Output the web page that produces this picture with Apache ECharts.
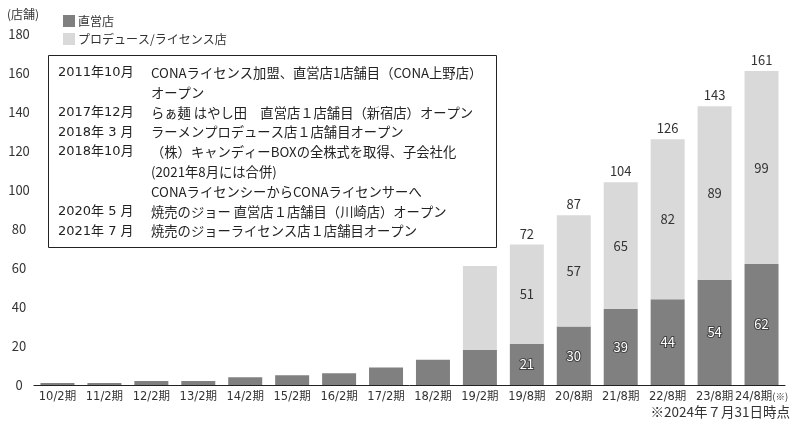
<!DOCTYPE html>
<html>
<head>
<meta charset="utf-8">
<script src="https://cdn.jsdelivr.net/npm/echarts@6/dist/echarts.min.js"></script>
<style>
  html, body { margin: 0; padding: 0; background: #fff; }
  #chart { width: 797px; height: 428px; }
</style>
</head>
<body>
<div id="chart"></div>
<script>
// 決算期
var periods = ["10/2期", "11/2期", "12/2期", "13/2期", "14/2期", "15/2期", "16/2期", "17/2期",
  "18/2期", "19/2期", "19/8期", "20/8期", "21/8期", "22/8期", "23/8期", "24/8期(※)"];
// 直営店
var directStores = [1, 1, 2, 2, 4, 5, 6, 9, 13, 18, 21, 30, 39, 44, 54, 62];
// プロデュース/ライセンス店
var licenseStores = [0, 0, 0, 0, 0, 0, 0, 0, 0, 43, 51, 57, 65, 82, 89, 99];
// 合計店舗数
var totalStores = [1, 1, 2, 2, 4, 5, 6, 9, 13, 61, 72, 87, 104, 126, 143, 161];
var yTicks = [0, 20, 40, 60, 80, 100, 120, 140, 160, 180];
var firstLabeled = 10; // 19/8期 から数値表示

var historyDates = ["2011年10月", "", "2017年12月", "2018年 3 月", "2018年10月", "", "", "2020年 5 月", "2021年 7 月"];
var historyTexts = [
  "CONAライセンス加盟、直営店1店舗目（CONA上野店）",
  "オープン",
  "らぁ麺 はやし田　直営店１店舗目（新宿店）オープン",
  "ラーメンプロデュース店１店舗目オープン",
  "（株）キャンディーBOXの全株式を取得、子会社化",
  "(2021年8月には合併)",
  "CONAライセンシーからCONAライセンサーへ",
  "焼売のジョー 直営店１店舗目（川崎店）オープン",
  "焼売のジョーライセンス店１店舗目オープン"
];

var font = "'Noto Sans CJK JP', 'Noto Sans', sans-serif";
var wideFont = "'DejaVu Sans', 'Noto Sans CJK JP', sans-serif";

function withLabels(values, labelStyle) {
  return values.map(function (v, i) {
    if (i < firstLabeled) {
      return { value: v, label: { show: false } };
    }
    return { value: v, label: labelStyle };
  });
}

var chart = echarts.init(document.getElementById("chart"));
var option = {
  backgroundColor: "#fff",
  animation: false,
  textStyle: { fontFamily: font },
  legend: {
    data: ["直営店", "プロデュース/ライセンス店"],
    orient: "vertical",
    left: 58,
    top: 10,
    itemWidth: 12,
    itemHeight: 12,
    itemGap: 6,
    icon: "rect",
    textStyle: { fontSize: 12, color: "#333", fontFamily: font, padding: [0, 0, 0, -2] }
  },
  grid: {
    left: 34,
    right: 12,
    top: 34,
    bottom: 43
  },
  xAxis: {
    type: "category",
    data: periods,
    axisLine: { lineStyle: { color: "#222", width: 1 } },
    axisTick: { show: false },
    axisLabel: {
      interval: 0,
      margin: 6,
      fontSize: 11.5,
      color: "#333",
      fontFamily: wideFont,
      formatter: function (v) {
        if (v.indexOf("(※)") >= 0) {
          return v.replace("(※)", "") + "{s|(※)}";
        }
        return v;
      },
      rich: { s: { fontSize: 9.5, color: "#333", fontFamily: font } }
    }
  },
  yAxis: {
    type: "value",
    min: yTicks[0],
    max: yTicks[yTicks.length - 1],
    interval: 20,
    name: "(店舗)",
    nameLocation: "end",
    nameGap: 14,
    nameTextStyle: { fontSize: 12, color: "#333", align: "center", padding: [0, 22, 0, 0], fontFamily: font },
    axisLine: { show: false },
    axisTick: { show: false },
    splitLine: { show: false },
    axisLabel: { fontSize: 13, color: "#333", align: "center", margin: 15, fontFamily: font }
  },
  series: [
    {
      name: "直営店",
      type: "bar",
      stack: "stores",
      barWidth: 34,
      itemStyle: { color: "#808080" },
      data: withLabels(directStores, {
        show: true,
        position: "inside",
        fontSize: 13,
        color: "#fff",
        textBorderColor: "#444",
        textBorderWidth: 2,
        fontFamily: font
      })
    },
    {
      name: "プロデュース/ライセンス店",
      type: "bar",
      stack: "stores",
      barWidth: 34,
      itemStyle: { color: "#d9d9d9" },
      data: withLabels(licenseStores, {
        show: true,
        position: "inside",
        fontSize: 13,
        color: "#333",
        fontFamily: font
      })
    },
    {
      name: "合計",
      type: "line",
      symbol: "circle",
      symbolSize: 1,
      showSymbol: true,
      itemStyle: { color: "rgba(0,0,0,0)" },
      lineStyle: { width: 0, opacity: 0 },
      silent: true,
      z: 5,
      data: withLabels(totalStores, {
        show: true,
        position: "top",
        distance: 4,
        fontSize: 13,
        color: "#333",
        fontFamily: font
      })
    }
  ],
  graphic: [
    {
      type: "rect",
      left: 48,
      top: 55,
      shape: { width: 448, height: 192 },
      style: { fill: "#fff", stroke: "#222", lineWidth: 1 },
      z: 10
    },
    {
      type: "text",
      left: 58,
      top: 63,
      z: 11,
      style: {
        text: historyDates.join("\n"),
        font: "13px " + wideFont,
        lineHeight: 19.8,
        fill: "#222"
      }
    },
    {
      type: "text",
      left: 151,
      top: 63,
      z: 11,
      style: {
        text: historyTexts.join("\n"),
        font: "13.3px " + font,
        lineHeight: 19.8,
        fill: "#222"
      }
    },
    {
      type: "text",
      right: 7,
      top: 405,
      style: {
        text: "※2024年７月31日時点",
        font: "13.5px " + font,
        fill: "#333"
      }
    }
  ]
};
chart.setOption(option);
</script>
</body>
</html>
